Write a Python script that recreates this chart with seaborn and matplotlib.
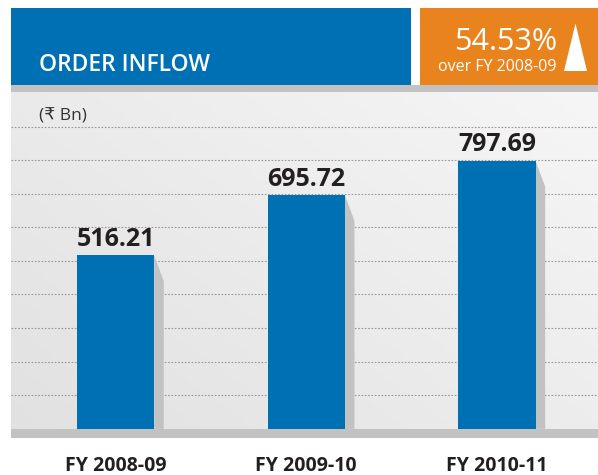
import numpy as np
import pandas as pd
import matplotlib
matplotlib.use("Agg")
import matplotlib.pyplot as plt
import seaborn as sns
from matplotlib.patches import Rectangle, Polygon
from matplotlib.colors import LinearSegmentedColormap

# chart data
years = ["FY 2008-09", "FY 2009-10", "FY 2010-11"]
inflow = [516.21, 695.72, 797.69]
grid_ticks = [100, 200, 300, 400, 500, 600, 700, 800, 900]

title = "ORDER INFLOW"
unit_label = "(₹ Bn)"
growth_pct = "54.53%"
growth_note = "over FY 2008-09"

BLUE = "#0070b5"
ORANGE = "#e8831e"
GREY = "#c2c2c2"
DARK = "#231f20"

df = pd.DataFrame({"year": years, "inflow": inflow})

sns.set_style("white")
plt.rcParams["font.family"] = ["Open Sans", "DejaVu Sans"]

W, H = 598, 475
fig = plt.figure(figsize=(W / 100, H / 100), dpi=100)


def fx(px):
    return px / W


def fy(py):
    return 1 - py / H


# plot panel
ax = fig.add_axes([fx(11), fy(438), fx(598 - 11), (438 - 92) / H])

# light grey gradient behind the bars
gx, gy = np.meshgrid(np.linspace(0, 1, 200), np.linspace(0, 1, 200))
grad = 0.55 * gx + 0.45 * gy
bg_cmap = LinearSegmentedColormap.from_list("bg", ["#e1e1e1", "#f6f6f6"])
ax.imshow(grad, cmap=bg_cmap, origin="lower", aspect="auto",
          extent=[0, 1, 0, 1], transform=ax.transAxes, zorder=0)

sns.barplot(data=df, x="year", y="inflow", color=BLUE, saturation=1,
            width=0.406, linewidth=0, ax=ax, zorder=3)

# drop shadow on the right side of every bar
for p in ax.patches:
    x1 = p.get_x() + p.get_width()
    top = p.get_height()
    shadow = Polygon([(x1, top), (x1 + 0.05, top - 77), (x1 + 0.05, 0), (x1, 0)],
                     closed=True, facecolor=GREY, edgecolor="none", zorder=2)
    ax.add_patch(shadow)

ax.bar_label(ax.containers[0], labels=[f"{v:.2f}" for v in inflow], padding=2.5,
             fontsize=18, fontweight="bold", color=DARK)

ax.set_xlim(-0.548, 2.53)
ax.set_ylim(-27.1, 1002.7)
ax.axhspan(-27.1, 0, color=GREY, zorder=4, lw=0)

ax.set_yticks(grid_ticks)
ax.yaxis.grid(True, linestyle=(0, (1.5, 1.5)), color="#999999", lw=0.8)
ax.set_axisbelow(True)
ax.set_yticklabels([])
ax.tick_params(axis="y", length=0)
ax.tick_params(axis="x", length=0, pad=13, labelsize=14, labelcolor=DARK)
for lab in ax.get_xticklabels():
    lab.set_fontweight("bold")
ax.set_xlabel("")
ax.set_ylabel("")
for s in ax.spines.values():
    s.set_visible(False)

# header boxes
fig.add_artist(Rectangle((fx(11), fy(85)), fx(411 - 11), (85 - 8) / H,
                         transform=fig.transFigure, facecolor=BLUE, edgecolor="none"))
fig.add_artist(Rectangle((fx(420), fy(85)), fx(598 - 420), (85 - 8) / H,
                         transform=fig.transFigure, facecolor=ORANGE, edgecolor="none"))
fig.add_artist(Rectangle((fx(11), fy(92)), fx(598 - 11), (92 - 85) / H,
                         transform=fig.transFigure, facecolor=GREY, edgecolor="none"))

fig.text(fx(39), fy(71), title, color="white", fontsize=16.5, fontweight="semibold",
         ha="left", va="baseline")
fig.text(fx(557), fy(49.5), growth_pct, color="white", fontsize=22,
         ha="right", va="baseline")
fig.text(fx(557), fy(70.7), growth_note, color="white", fontsize=11.5,
         ha="right", va="baseline")
fig.add_artist(Polygon([(fx(564), fy(71)), (fx(587), fy(71)), (fx(575.5), fy(23.5))],
                       closed=True, transform=fig.transFigure,
                       facecolor="white", edgecolor="none"))

fig.text(fx(39), fy(120.5), unit_label, color="#333333", fontsize=12.5,
         ha="left", va="baseline", family=["Open Sans", "DejaVu Sans"])

fig.savefig("out.png", dpi=100, facecolor="white")
